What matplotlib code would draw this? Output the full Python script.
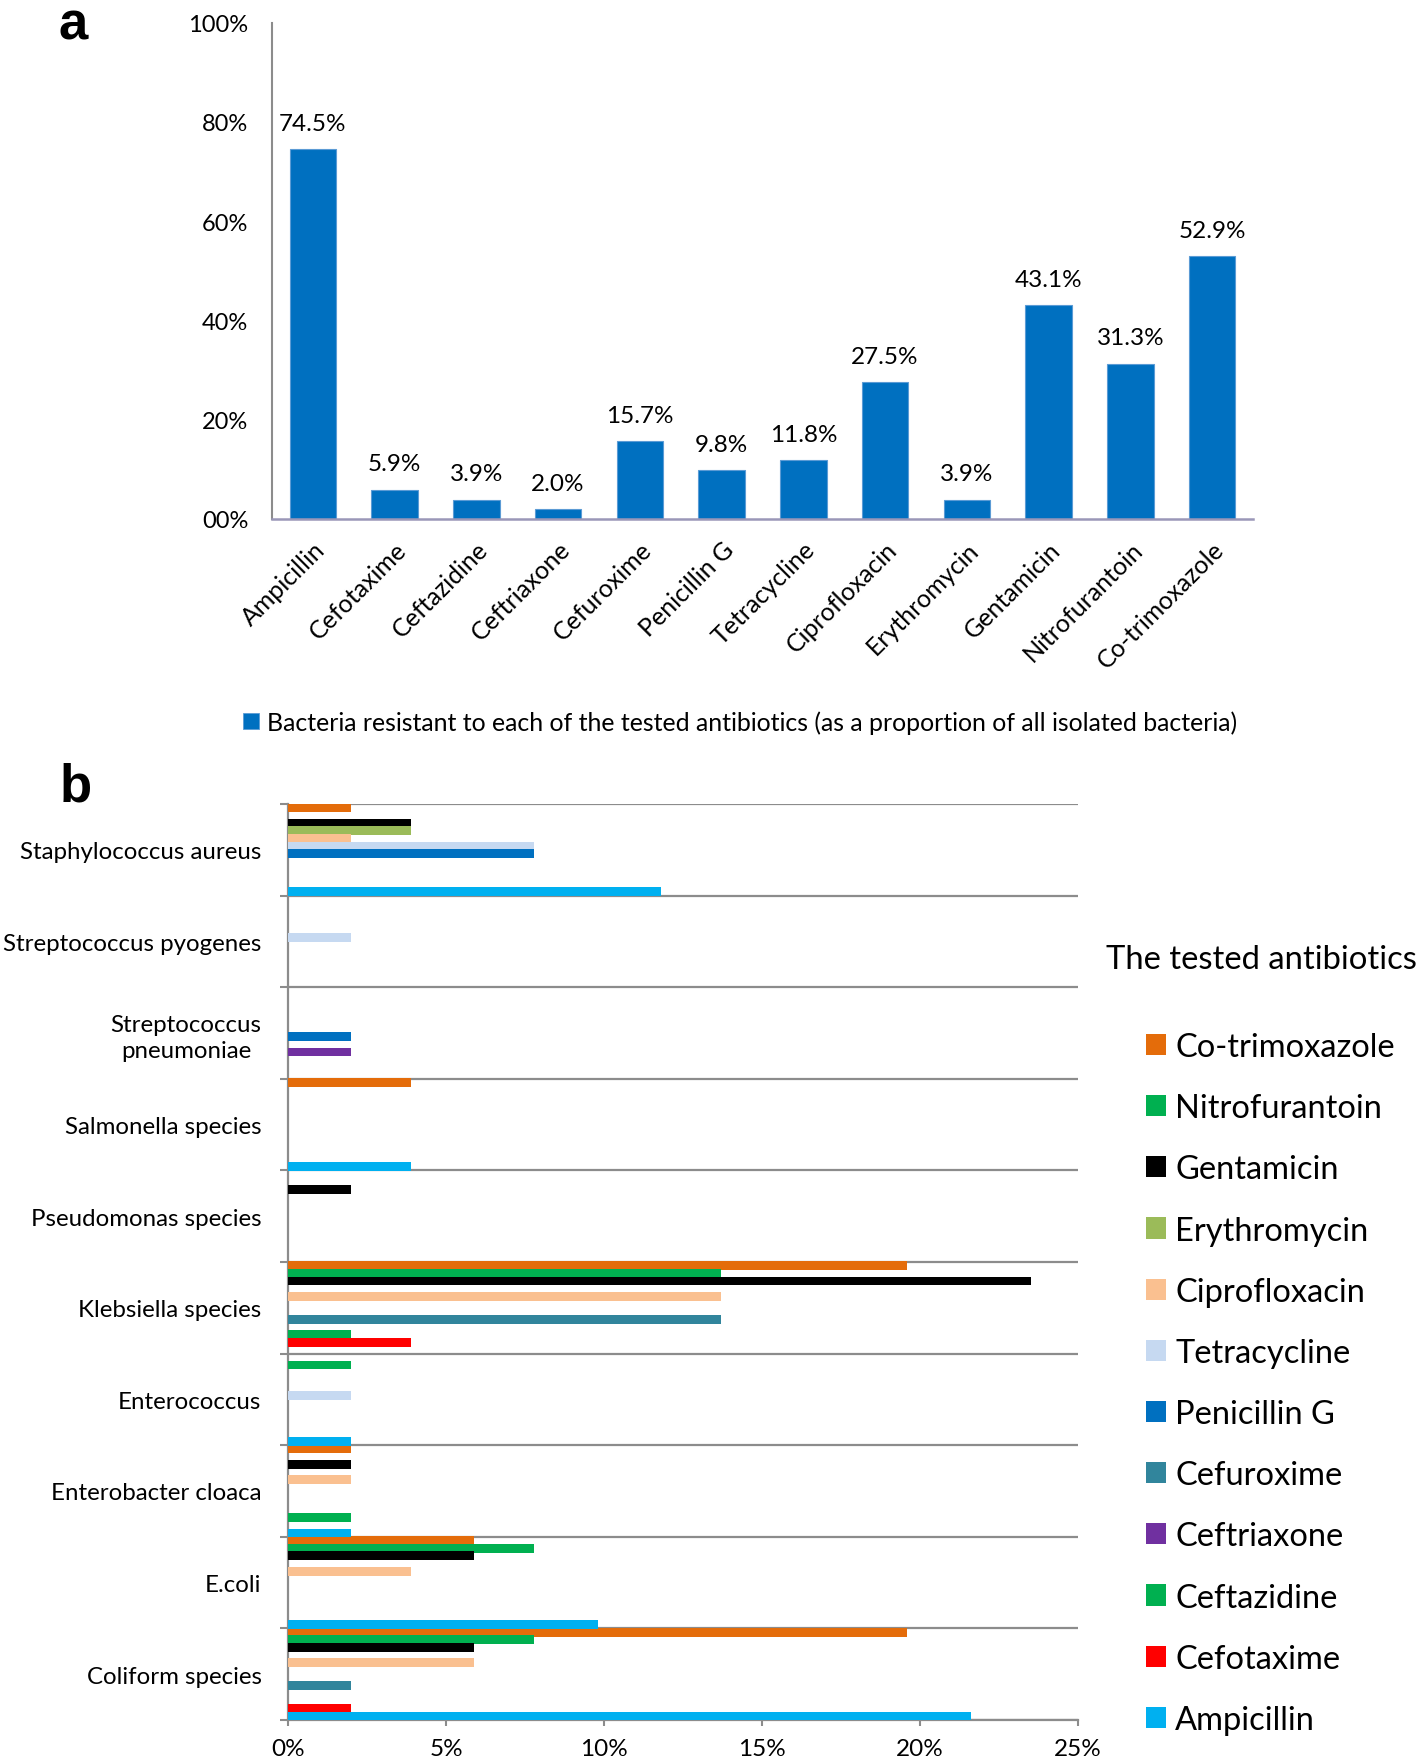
import matplotlib
matplotlib.use('Agg')
import matplotlib.pyplot as plt
from matplotlib.patches import Patch
import numpy as np

plt.rcParams['font.family'] = ['Lato', 'DejaVu Sans']

# ---------------- data ----------------
antibiotics = ['Ampicillin', 'Cefotaxime', 'Ceftazidine', 'Ceftriaxone', 'Cefuroxime',
               'Penicillin G', 'Tetracycline', 'Ciprofloxacin', 'Erythromycin',
               'Gentamicin', 'Nitrofurantoin', 'Co-trimoxazole']
overall_resistance = [74.5, 5.9, 3.9, 2.0, 15.7, 9.8, 11.8, 27.5, 3.9, 43.1, 31.3, 52.9]
a_yticks = [0, 20, 40, 60, 80, 100]
a_yticklabels = ['00%', '20%', '40%', '60%', '80%', '100%']
a_legend_label = 'Bacteria resistant to each of the tested antibiotics (as a proportion of all isolated bacteria)'

species = ['Staphylococcus aureus', 'Streptococcus pyogenes', 'Streptococcus\npneumoniae',
           'Salmonella species', 'Pseudomonas species', 'Klebsiella species',
           'Enterococcus', 'Enterobacter cloaca', 'E.coli', 'Coliform species']
ampicillin     = [11.8, 0, 0, 3.9, 0, 0, 2.0, 2.0, 9.8, 21.6]
cefotaxime     = [0, 0, 0, 0, 0, 3.9, 0, 0, 0, 2.0]
ceftazidine    = [0, 0, 0, 0, 0, 2.0, 0, 2.0, 0, 0]
ceftriaxone    = [0, 0, 2.0, 0, 0, 0, 0, 0, 0, 0]
cefuroxime     = [0, 0, 0, 0, 0, 13.7, 0, 0, 0, 2.0]
penicillin_g   = [7.8, 0, 2.0, 0, 0, 0, 0, 0, 0, 0]
tetracycline   = [7.8, 2.0, 0, 0, 0, 0, 2.0, 0, 0, 0]
ciprofloxacin  = [2.0, 0, 0, 0, 0, 13.7, 0, 2.0, 3.9, 5.9]
erythromycin   = [3.9, 0, 0, 0, 0, 0, 0, 0, 0, 0]
gentamicin     = [3.9, 0, 0, 0, 2.0, 23.5, 0, 2.0, 5.9, 5.9]
nitrofurantoin = [0, 0, 0, 0, 0, 13.7, 2.0, 0, 7.8, 7.8]
co_trimoxazole = [2.0, 0, 0, 3.9, 0, 19.6, 0, 2.0, 5.9, 19.6]
b_xticks = [0, 5, 10, 15, 20, 25]
b_xticklabels = ['0%', '5%', '10%', '15%', '20%', '25%']
b_legend_title = 'The tested antibiotics'

by_antibiotic = {
    'Ampicillin': ampicillin, 'Cefotaxime': cefotaxime, 'Ceftazidine': ceftazidine,
    'Ceftriaxone': ceftriaxone, 'Cefuroxime': cefuroxime, 'Penicillin G': penicillin_g,
    'Tetracycline': tetracycline, 'Ciprofloxacin': ciprofloxacin,
    'Erythromycin': erythromycin, 'Gentamicin': gentamicin,
    'Nitrofurantoin': nitrofurantoin, 'Co-trimoxazole': co_trimoxazole,
}
colors = {
    'Co-trimoxazole': '#E46C0A', 'Nitrofurantoin': '#00B050', 'Gentamicin': '#000000',
    'Erythromycin': '#9BBB59', 'Ciprofloxacin': '#FAC090', 'Tetracycline': '#C6D9F1',
    'Penicillin G': '#0070C0', 'Cefuroxime': '#31859C', 'Ceftriaxone': '#7030A0',
    'Ceftazidine': '#00B050', 'Cefotaxime': '#FF0000', 'Ampicillin': '#00B0F0',
}

W, H = 1418, 1758
fig = plt.figure(figsize=(W / 100, H / 100), dpi=100)
GRAY = '#8c8c8c'

def fx(px):
    return px / W

def fy(py):
    return 1 - py / H

# ---------------- panel a ----------------
axa = fig.add_axes([fx(272), fy(520), fx(1253) - fx(272), fy(23.5) - fy(520)])
xa = np.arange(len(antibiotics))
bars = axa.bar(xa, overall_resistance, width=0.57, color='#0070C0',
               edgecolor='#5B9BD5', linewidth=0.8)
axa.bar_label(bars, labels=[f'{v:.1f}%' for v in overall_resistance],
              padding=11, fontsize=17.5)
axa.set_xlim(-0.5, len(antibiotics) - 0.5)
axa.set_ylim(0, 100)
axa.set_yticks(a_yticks)
axa.set_yticklabels(a_yticklabels)
axa.set_xticks(xa)
axa.set_xticklabels(antibiotics, rotation=45, ha='right', rotation_mode='anchor')
axa.tick_params(axis='y', length=0, pad=17, labelsize=17)
axa.tick_params(axis='x', length=0, pad=13, labelsize=18)
for s in ['top', 'right']:
    axa.spines[s].set_visible(False)
axa.spines['left'].set_color(GRAY)
axa.spines['left'].set_linewidth(1.5)
axa.spines['bottom'].set_color('#9a97b8')
axa.spines['bottom'].set_linewidth(1.8)

fig.legend(handles=[Patch(facecolor='#0070C0', edgecolor='#5B9BD5', linewidth=0.6)],
           labels=[a_legend_label], loc='center left',
           bbox_to_anchor=(fx(243), fy(723)), frameon=False, fontsize=17.9,
           handlelength=0.65, handleheight=0.65, handletextpad=0.3,
           borderpad=0, borderaxespad=0)

fig.text(fx(73), fy(25), 'a', fontsize=38, fontweight='bold',
         family='Liberation Sans', ha='center', va='center')

# ---------------- panel b ----------------
axb = fig.add_axes([fx(288), fy(1721), fx(1078) - fx(288), fy(805) - fy(1721)])
n_ab = len(antibiotics)
legend_order = antibiotics[::-1]
handles = []
for j, ab in enumerate(legend_order):
    vals = by_antibiotic[ab]
    ys = [i * n_ab + j + 0.5 for i in range(len(species))]
    axb.barh(ys, vals, height=1.15, color=colors[ab], linewidth=0, zorder=3)
    handles.append(Patch(facecolor=colors[ab], edgecolor='none'))

axb.set_xlim(0, 25)
axb.set_ylim(len(species) * n_ab, 0)
axb.set_yticks(np.arange(0, len(species) * n_ab + 1, n_ab))
axb.set_yticklabels([''] * (len(species) + 1))
axb.set_yticks(np.arange(n_ab / 2, len(species) * n_ab, n_ab), minor=True)
axb.set_yticklabels(species, minor=True, multialignment='center', linespacing=1.3)
axb.yaxis.grid(True, which='major', color=GRAY, linewidth=1.6, zorder=1)
axb.set_axisbelow(True)
axb.tick_params(axis='y', which='major', length=6, width=1.5, color=GRAY, direction='out')
axb.tick_params(axis='y', which='minor', length=0, pad=19, labelsize=17.3)
axb.set_xticks(b_xticks)
axb.set_xticklabels(b_xticklabels)
axb.tick_params(axis='x', length=4, width=1.5, color=GRAY, pad=9, labelsize=17.5)
for s in ['top', 'right']:
    axb.spines[s].set_visible(False)
for s in ['left', 'bottom']:
    axb.spines[s].set_color(GRAY)
    axb.spines[s].set_linewidth(1.6)

fig.text(fx(1106), fy(960), b_legend_title, fontsize=23.6, ha='left', va='center')
fig.legend(handles=handles, labels=legend_order, loc='upper left',
           bbox_to_anchor=(fx(1146), fy(1033)), frameon=False, fontsize=23.5,
           handlelength=0.62, handleheight=0.62, handletextpad=0.28,
           labelspacing=0.955, borderpad=0, borderaxespad=0)

fig.text(fx(76), fy(788), 'b', fontsize=38, fontweight='bold',
         family='Liberation Sans', ha='center', va='center')

fig.savefig('out.png', dpi=100)
